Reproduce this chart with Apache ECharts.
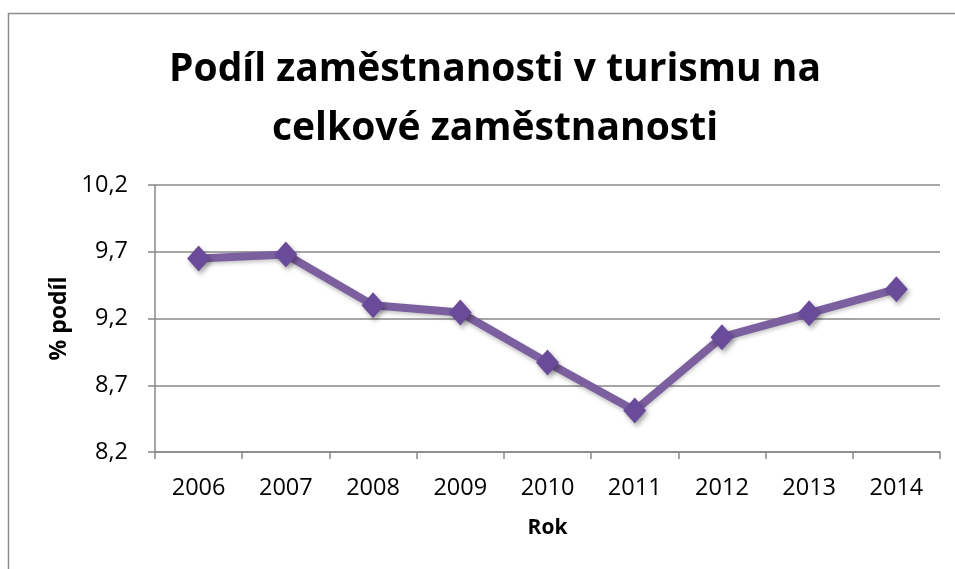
<!DOCTYPE html>
<html><head><meta charset="utf-8">
<script src="https://cdn.jsdelivr.net/npm/echarts@6/dist/echarts.min.js"></script>
<style>html,body{margin:0;padding:0;background:#fff}#c{width:955px;height:569px}</style>
</head><body><div id="c"></div>
<script>
var years = ['2006','2007','2008','2009','2010','2011','2012','2013','2014'];
var shares = [9.65, 9.68, 9.30, 9.245, 8.87, 8.51, 9.06, 9.24, 9.42];
var yTicks = [8.2, 8.7, 9.2, 9.7, 10.2];
var titleText = 'Podíl zaměstnanosti v turismu na\ncelkové zaměstnanosti';
var yName = '% podíl';
var xName = 'Rok';

var chart = echarts.init(document.getElementById('c'));
var font = '"Open Sans", "DejaVu Sans", sans-serif';
chart.setOption({
  animation: false,
  graphic: [{
    type: 'rect', shape: {x: 8.5, y: 13.5, width: 1000, height: 1000},
    style: {fill: 'none', stroke: '#8c8c8c', lineWidth: 1.5}, silent: true, z: -1
  }],
  title: {
    text: titleText, left: 490, textAlign: 'center', top: 35,
    textStyle: {fontFamily: font, fontSize: 39, fontWeight: 'bold', color: '#000', lineHeight: 59}
  },
  grid: {left: 155, right: 15, top: 185, bottom: 117, containLabel: false},
  xAxis: {
    type: 'category', data: years, boundaryGap: true,
    name: xName, nameLocation: 'middle', nameGap: 66,
    nameTextStyle: {fontFamily: font, fontSize: 21, fontWeight: 'bold', color: '#000'},
    axisLine: {lineStyle: {color: '#888', width: 1.5}},
    axisTick: {show: true, length: 7, lineStyle: {color: '#888', width: 1.5}},
    axisLabel: {fontFamily: font, fontSize: 23.5, color: '#000', margin: 24}
  },
  yAxis: {
    type: 'value', min: yTicks[0], max: yTicks[yTicks.length-1], interval: 0.5,
    name: yName, nameLocation: 'middle', nameGap: 75, nameRotate: 90,
    nameTextStyle: {fontFamily: font, fontSize: 23, fontWeight: 'bold', color: '#000'},
    axisLine: {show: true, lineStyle: {color: '#888', width: 1.5}},
    axisTick: {show: true, length: 7, lineStyle: {color: '#888', width: 1.5}},
    splitLine: {lineStyle: {color: '#888', width: 1.5}},
    axisLabel: {fontFamily: font, fontSize: 23.5, color: '#000', margin: 27,
      formatter: function(v){ return v.toFixed(1).replace('.', ','); }}
  },
  series: [{
    type: 'line', data: shares,
    symbol: 'diamond', symbolSize: [23, 26],
    lineStyle: {color: '#7b5f9f', width: 8, shadowColor: 'rgba(0,0,0,0.25)', shadowBlur: 4, shadowOffsetY: 2},
    itemStyle: {color: '#6a4b9a', shadowColor: 'rgba(0,0,0,0.35)', shadowBlur: 5, shadowOffsetX: 2, shadowOffsetY: 3}
  }]
});
</script></body></html>
